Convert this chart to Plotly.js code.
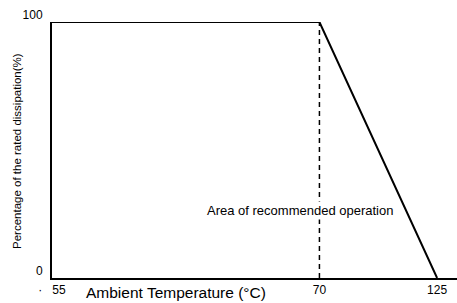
<!DOCTYPE html>
<html><head><meta charset="utf-8">
<script src="https://cdn.plot.ly/plotly-3.0.1.min.js"></script>
<style>html,body{margin:0;padding:0;background:#fff}</style>
</head><body>
<div id="chart" style="width:457px;height:303px"></div>
<script>
const tempC = [-55, 70, 125];
const ratedPct = [100, 100, 0];
const dividerX = [70, 70];
const dividerY = [0, 100];
const xTickVals = [-55, 70, 125];
const xTickText = ['\u00b7\u00a0\u00a0\u00a055', '70', '125'];
const yTickVals = [0, 100];
const yTickText = ['0', '100'];

const narrow = '"Liberation Sans Narrow", "Arial Narrow", "Liberation Sans", Arial, sans-serif';
const sans = '"Liberation Sans", Arial, sans-serif';

const traces = [
  {x: dividerX, y: dividerY, mode: 'lines', line: {color: '#000', width: 1.5, dash: '5px,4px'}, hoverinfo: 'skip', cliponaxis: false},
  {x: tempC, y: ratedPct, mode: 'lines', line: {color: '#000', width: 2}, cliponaxis: false}
];

const layout = {
  width: 457, height: 303,
  margin: {l: 52, r: 0, t: 22, b: 25, pad: 0},
  paper_bgcolor: '#fff', plot_bgcolor: '#fff',
  showlegend: false,
  font: {family: sans, color: '#000', size: 12},
  xaxis: {
    range: [-55, 134.3], showgrid: false, zeroline: false,
    showline: true, linecolor: '#000', linewidth: 2, ticks: '',
    tickvals: xTickVals, ticktext: xTickText,
    tickfont: {family: sans, size: 12, color: '#000'}
  },
  yaxis: {
    range: [0, 100], showgrid: false, zeroline: false,
    showline: true, linecolor: '#000', linewidth: 2, ticks: '',
    tickvals: yTickVals, ticktext: yTickText,
    ticklabelshift: -7, ticklabelstandoff: 5,
    tickfont: {family: sans, size: 12, color: '#000'}
  },
  annotations: [
    {text: 'Area of recommended operation', x: 61, y: 26.5, xref: 'x', yref: 'y',
     showarrow: false, bgcolor: '#fff', font: {family: narrow, size: 13, color: '#000'}},
    {text: 'Ambient Temperature (\u00b0C)', x: 176, y: 292, xref: 'paper', yref: 'paper',
     xanchor: 'center', yanchor: 'middle', showarrow: false,
     font: {family: sans, size: 15.5, color: '#000'}},
    {text: 'Percentage of the rated dissipation(%)', x: 17, y: 151, textangle: -90,
     xanchor: 'center', yanchor: 'middle',
     showarrow: false, font: {family: narrow, size: 11.5, color: '#000'}}
  ]
};
// convert pixel-positioned annotations to paper coords
[1, 2].forEach(i => {
  const a = layout.annotations[i];
  const pw = 457 - 52 - 0, ph = 303 - 22 - 25;
  a.x = (a.x - 52) / pw; a.y = (303 - 25 - a.y) / ph;
  a.xref = 'paper'; a.yref = 'paper';
});
Plotly.newPlot('chart', traces, layout, {displayModeBar: false, staticPlot: true});
</script>
</body></html>
